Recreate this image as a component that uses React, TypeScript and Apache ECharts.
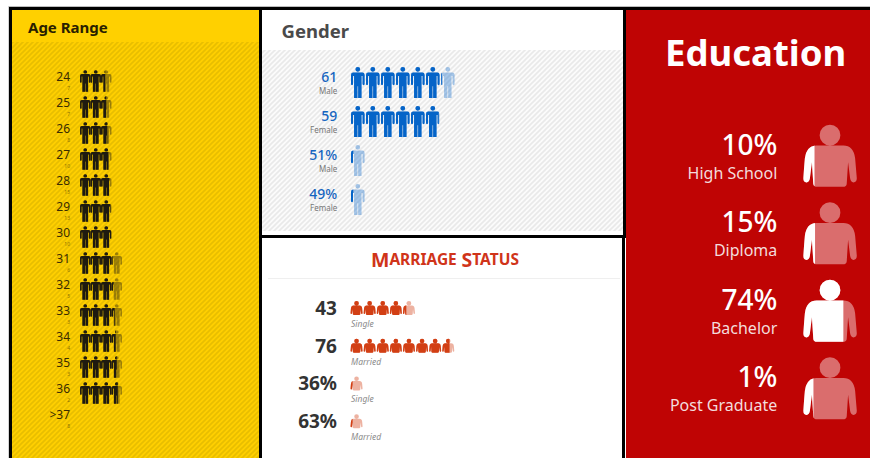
import React, { useEffect, useRef } from "react";
import * as echarts from "echarts";

const FONT = "'Noto Sans', sans-serif";

// Age Range
const ageCats = ["24", "25", "26", "27", "28", "29", "30", "31", "32", "33", "34", "35", "36", ">37"];
const ageCounts = ["7", "7", "8", "10", "15", "13", "10", "6", "5", "3", "4", "3", "2", "8"];
const ageFill = [2.4, 2.5, 2.6, 2.7, 2.8, 2.9, 3.0, 3.1, 3.2, 3.3, 3.4, 3.5, 3.6, 0];

// Gender
const genderCats = ["61", "59", "51%", "49%"];
const genderSubs = ["Male", "Female", "Male", "Female"];
const genderFill = [6.1, 5.9, 0.2, 0.2];

// Marriage Status
const marriageCats = ["43", "76", "36%", "63%"];
const marriageSubs = ["Single", "Married", "Single", "Married"];
const marriageFill = [4.3, 7.6, 0.2, 0.2];

// Education
const eduCats = ["10%", "15%", "74%", "1%"];
const eduSubs = ["High School", "Diploma", "Bachelor", "Post Graduate"];
const eduFill = [0.21, 0.22, 0.75, 0.19];

const MAN =
  "path://M13 8A7 7 0 1 1 27 8A7 7 0 1 1 13 8ZM7 17H33Q40 17 40 24V50Q40 53 37 53Q34 53 34 50V27H31V90H21V56H19V90H9V27H6V50Q6 53 3 53Q0 53 0 50V24Q0 17 7 17Z";
const BUST =
  "path://M49 31A31 31 0 1 1 111 31A31 31 0 1 1 49 31ZM40 62H120Q150 62 155 100L160 160Q160 172 150 172Q142 172 140 160L134 112L130 175Q130 185 118 185H42Q30 185 30 175L26 112L20 160Q18 172 10 172Q0 172 0 160L5 100Q10 62 40 62Z";

function hatch(base: string, stripe: string) {
  const n = 5;
  const c = document.createElement("canvas");
  c.width = n;
  c.height = n;
  const ctx = c.getContext("2d")!;
  ctx.fillStyle = base;
  ctx.fillRect(0, 0, n, n);
  ctx.strokeStyle = stripe;
  ctx.lineWidth = 1.7;
  for (const d of [-n, 0, n]) {
    ctx.beginPath();
    ctx.moveTo(d - 1, n + 1);
    ctx.lineTo(d + n + 1, -1);
    ctx.stroke();
  }
  return { image: c, repeat: "repeat" };
}

function pictorial(grid: number, fill: number[], symbol: string, size: number[], pitch: number, color: string, ghost: number) {
  const common = {
    type: "pictorialBar",
    xAxisIndex: grid,
    yAxisIndex: grid,
    symbol,
    symbolSize: size,
    symbolRepeat: "fixed",
    symbolMargin: ((pitch - size[0]) / 2).toFixed(3) + "!",
    symbolPosition: "start",
    silent: true,
  };
  return [
    {
      ...common,
      z: 2,
      itemStyle: { color, opacity: ghost },
      data: fill.map((v) => (v > 0 ? { value: Math.ceil(v), symbolBoundingData: Math.ceil(v) } : null)),
    },
    {
      ...common,
      z: 3,
      symbolClip: true,
      itemStyle: { color },
      data: fill.map((v) => (v > 0 ? { value: v, symbolBoundingData: Math.ceil(v) } : null)),
    },
  ];
}

function rect(x: number, y: number, width: number, height: number, fill: any, z = -5) {
  return { type: "rect", silent: true, z, shape: { x, y, width, height }, style: { fill } };
}

export default function App() {
  const ref = useRef<HTMLDivElement>(null);
  useEffect(() => {
    const chart = echarts.init(ref.current!, undefined, { renderer: "svg" });
    const xAxis = (gridIndex: number, max: number) => ({ type: "value", gridIndex, min: 0, max, show: false });
    const yBase = (gridIndex: number, data: string[]) => ({
      type: "category",
      gridIndex,
      data,
      inverse: true,
      axisLine: { show: false },
      axisTick: { show: false },
      splitLine: { show: false },
    });
    chart.setOption({
      animation: false,
      backgroundColor: "#ffffff",
      textStyle: { fontFamily: FONT },
      title: [
        { text: "Age Range", left: 28, top: 19, padding: 0, textStyle: { fontFamily: FONT, fontSize: 15, fontWeight: "bold", color: "#2A1E00" } },
        { text: "Gender", left: 281.5, top: 21, padding: 0, textStyle: { fontFamily: FONT, fontSize: 18.5, fontWeight: "bold", color: "#4A4A4A" } },
        {
          text: "{a|M}{b|ARRIAGE} {a|S}{b|TATUS}",
          left: 371,
          top: 249,
          padding: 0,
          textStyle: {
            fontFamily: FONT,
            rich: {
              a: { fontFamily: FONT, fontSize: 19.5, fontWeight: "bold", color: "#D0341A" },
              b: { fontFamily: FONT, fontSize: 15.5, fontWeight: "bold", color: "#D0341A" },
            },
          },
        },
        { text: "Education", left: 665, top: 33, padding: 0, textStyle: { fontFamily: FONT, fontSize: 36.5, fontWeight: "bold", color: "#FFFFFF" } },
      ],
      grid: [
        { left: 80, top: 68, width: 105, height: 364 },
        { left: 350.3, top: 63, width: 150, height: 156 },
        { left: 350, top: 289, width: 131, height: 151 },
        { left: 803.3, top: 117, width: 53.4, height: 310 },
        { left: 351, top: 289, width: 131, height: 151 },
      ],
      xAxis: [xAxis(0, 10), xAxis(1, 10), xAxis(2, 10), xAxis(3, 1), xAxis(4, 10)],
      yAxis: [
        {
          ...yBase(0, ageCats),
          axisLabel: {
            margin: 10,
            formatter: (v: string, i: number) => `{big|${v}}\n{small|${ageCounts[i]}}`,
            rich: {
              big: { fontFamily: FONT, fontSize: 12, lineHeight: 13, align: "right", color: "#3A2C00" },
              small: { fontFamily: FONT, fontSize: 5, lineHeight: 9, align: "right", color: "#8F7200" },
            },
          },
        },
        {
          ...yBase(1, genderCats),
          axisLabel: {
            margin: 13,
            formatter: (v: string, i: number) => `{big|${v}}\n{small|${genderSubs[i]}}`,
            rich: {
              big: { fontFamily: FONT, fontSize: 14, fontWeight: 500, lineHeight: 16, align: "right", color: "#1565C0" },
              small: { fontFamily: FONT, fontSize: 8, lineHeight: 12, align: "right", color: "#777777" },
            },
          },
        },
        {
          ...yBase(2, marriageCats),
          axisLabel: { margin: 13, fontFamily: FONT, fontSize: 19, fontWeight: "bold", color: "#333333" },
        },
        {
          ...yBase(3, eduCats),
          axisLabel: {
            margin: 26,
            formatter: (v: string, i: number) => `{big|${v}}\n{small|${eduSubs[i]}}`,
            rich: {
              big: { fontFamily: FONT, fontSize: 28, fontWeight: 500, lineHeight: 34, align: "right", color: "#FFFFFF" },
              small: { fontFamily: FONT, fontSize: 16, lineHeight: 24, align: "right", color: "#F3DCDC" },
            },
          },
        },
        {
          ...yBase(4, marriageSubs.map((s, i) => `${s}#${i}`)),
          axisLabel: {
            inside: true,
            margin: 0,
            formatter: (_: string, i: number) => marriageSubs[i],
            align: "left",
            verticalAlign: "top",
            padding: [11, 0, 0, 0],
            fontFamily: FONT,
            fontSize: 8.5,
            fontStyle: "italic",
            color: "#8A8A8A",
          },
        },
      ],
      series: [
        ...pictorial(0, ageFill, MAN, [10.2, 21.7], 10.5, "#1E1A10", 0.42),
        ...pictorial(1, genderFill, MAN, [13.4, 31], 15, "#0564C8", 0.35),
        ...pictorial(2, marriageFill, BUST, [12, 14], 13.1, "#D23F14", 0.4),
        ...pictorial(3, eduFill, BUST, [53.4, 62], 53.4, "#FFFFFF", 0.42),
      ],
      graphic: {
        elements: [
          rect(12, 10, 247, 32, "#FFD000"),
          rect(12, 42, 247, 416, hatch("#FFD000", "#E8BE00")),
          rect(262, 10, 361, 40, "#FFFFFF"),
          rect(262, 50, 361, 181, hatch("#FBFBFB", "#E9E9E9")),
          rect(262, 238, 360, 220, "#FFFFFF"),
          rect(268, 278, 352, 1, "#EFEFEF"),
          rect(626, 10, 244, 448, "#BF0404"),
          rect(8, 6, 862, 1, "#BDBDBD", -4),
          rect(8, 6, 1, 452, "#D5D5D5", -4),
          rect(9, 7, 861, 3, "#000000", -4),
          rect(9, 7, 3, 451, "#000000", -4),
          rect(259, 7, 3, 451, "#000000", -4),
          rect(623, 7, 3, 229, "#000000", -4),
          rect(622, 236, 3, 222, "#000000", -4),
          rect(259, 235, 367, 3, "#000000", -4),
        ],
      },
    });
    return () => chart.dispose();
  }, []);
  return <div ref={ref} style={{ position: "fixed", left: 0, top: 0, width: 870, height: 458 }} />;
}
